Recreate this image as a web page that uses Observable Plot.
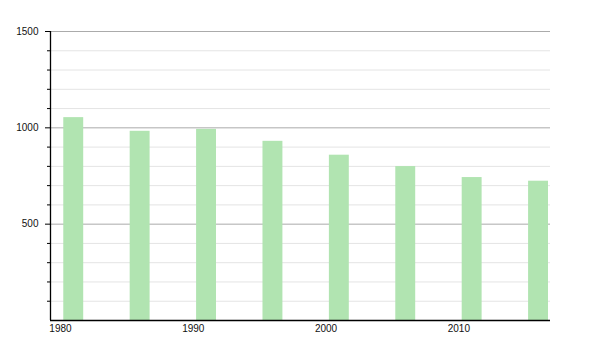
<!DOCTYPE html>
<html>
<head>
<meta charset="utf-8">
<script src="https://cdn.jsdelivr.net/npm/d3@7"></script>
<script src="https://cdn.jsdelivr.net/npm/@observablehq/plot@0.6"></script>
<style>
  html, body { margin: 0; padding: 0; background: #fff; }
  #chart svg { display: block; }
</style>
</head>
<body>
<div id="chart"></div>
<script>
const years = [1981, 1986, 1991, 1996, 2001, 2006, 2011, 2016];
const population = [1053, 982, 992, 930, 858, 799, 742, 723];
const xTicks = [1980, 1990, 2000, 2010];
const yMajorTicks = [500, 1000, 1500];
const yMinorTicks = [100, 200, 300, 400, 600, 700, 800, 900, 1100, 1200, 1300, 1400];

const data = years.map((year, i) => ({year, pop: population[i]}));
const halfBar = 0.75;

const chart = Plot.plot({
  width: 600,
  height: 350,
  marginLeft: 50,
  marginRight: 50,
  marginTop: 31,
  marginBottom: 30,
  style: {fontFamily: "'Liberation Sans', Arial, sans-serif", fontSize: "10px", color: "#111", background: "#fff"},
  x: {domain: [1979.25, 2016.9], axis: null, label: null},
  y: {domain: [0, 1500], axis: null, label: null},
  marks: [
    Plot.gridY(yMinorTicks, {stroke: "#e4e4e4", strokeOpacity: 1}),
    Plot.gridY(yMajorTicks, {stroke: "#ababab", strokeOpacity: 1}),
    Plot.rectY(data, {x1: d => d.year - halfBar, x2: d => d.year + halfBar, y: "pop", fill: "#b1e4b1"}),
    Plot.axisY(yMinorTicks, {tickSize: 3, text: null, stroke: "#000", label: null}),
    Plot.axisY(yMajorTicks, {tickSize: 5, tickPadding: 7, stroke: "#000", fill: "#111", tickFormat: d => String(d), label: null}),
    Plot.axisX(xTicks, {tickSize: 0, tickPadding: 4, tickFormat: d => String(d), fill: "#111", label: null}),
    Plot.ruleY([0], {stroke: "#000", strokeWidth: 1.3}),
    Plot.ruleX([1979.25], {stroke: "#000", strokeWidth: 1.3})
  ]
});
document.getElementById("chart").appendChild(chart);
</script>
</body>
</html>
